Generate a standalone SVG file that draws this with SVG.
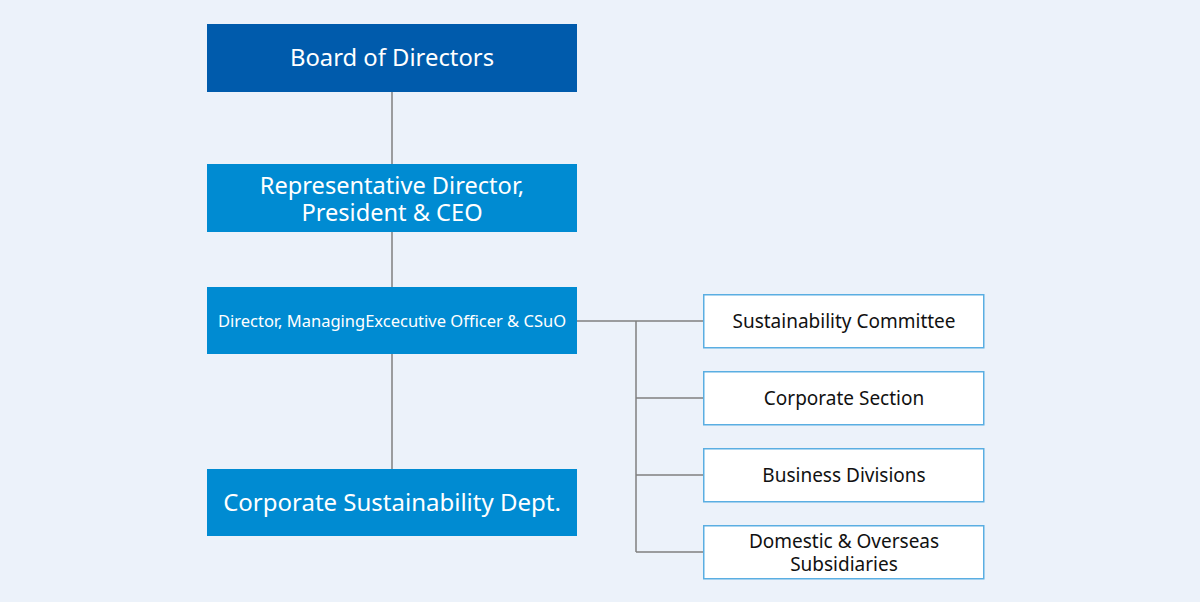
<svg xmlns="http://www.w3.org/2000/svg" width="1200" height="602" viewBox="0 0 1200 602">
<style>
.bg{fill:#ecf2fa}
.dark{fill:#005bac}
.mid{fill:#008bd2}
.sub{fill:#ffffff;stroke:#5aaee2;stroke-width:1.5}
.wt{fill:#ffffff;font-family:"Noto Sans","Open Sans",sans-serif;text-anchor:middle}
.bt{fill:#111111;font-family:"Noto Sans","Open Sans",sans-serif;text-anchor:middle;font-size:19px}
.ln{stroke:#808080;stroke-width:1.5;fill:none}
</style>
<rect class="bg" x="0" y="0" width="1200" height="602"/>
<g id="connectors">
<path class="ln" d="M392 92V164M392 232V287M392 354V469"/>
<path class="ln" d="M577 321H703M636 321V552M636 398H703M636 475H703M636 552H703"/>
</g>
<g id="board">
<rect class="dark" x="207" y="24" width="370" height="68"/>
<text class="wt" x="392" y="66" font-size="23.8">Board of Directors</text>
</g>
<g id="ceo">
<rect class="mid" x="207" y="164" width="370" height="68"/>
<text class="wt" x="392" y="194" font-size="23.6">Representative Director,</text>
<text class="wt" x="392" y="221" font-size="23.6">President &amp; CEO</text>
</g>
<g id="csuo">
<rect class="mid" x="207" y="287" width="370" height="67"/>
<text class="wt" x="392" y="327" font-size="16.5">Director, ManagingExcecutive Officer &amp; CSuO</text>
</g>
<g id="dept">
<rect class="mid" x="207" y="469" width="370" height="67"/>
<text class="wt" x="392" y="511" font-size="24">Corporate Sustainability Dept.</text>
</g>
<g id="committee">
<rect class="sub" x="703.75" y="294.75" width="280" height="53"/>
<text class="bt" x="844" y="328">Sustainability Committee</text>
</g>
<g id="section">
<rect class="sub" x="703.75" y="371.75" width="280" height="53"/>
<text class="bt" x="844" y="405">Corporate Section</text>
</g>
<g id="divisions">
<rect class="sub" x="703.75" y="448.75" width="280" height="53"/>
<text class="bt" x="844" y="482">Business Divisions</text>
</g>
<g id="subsidiaries">
<rect class="sub" x="703.75" y="525.75" width="280" height="53"/>
<text class="bt" x="844" y="548">Domestic &amp; Overseas</text>
<text class="bt" x="844" y="571">Subsidiaries</text>
</g>
</svg>
